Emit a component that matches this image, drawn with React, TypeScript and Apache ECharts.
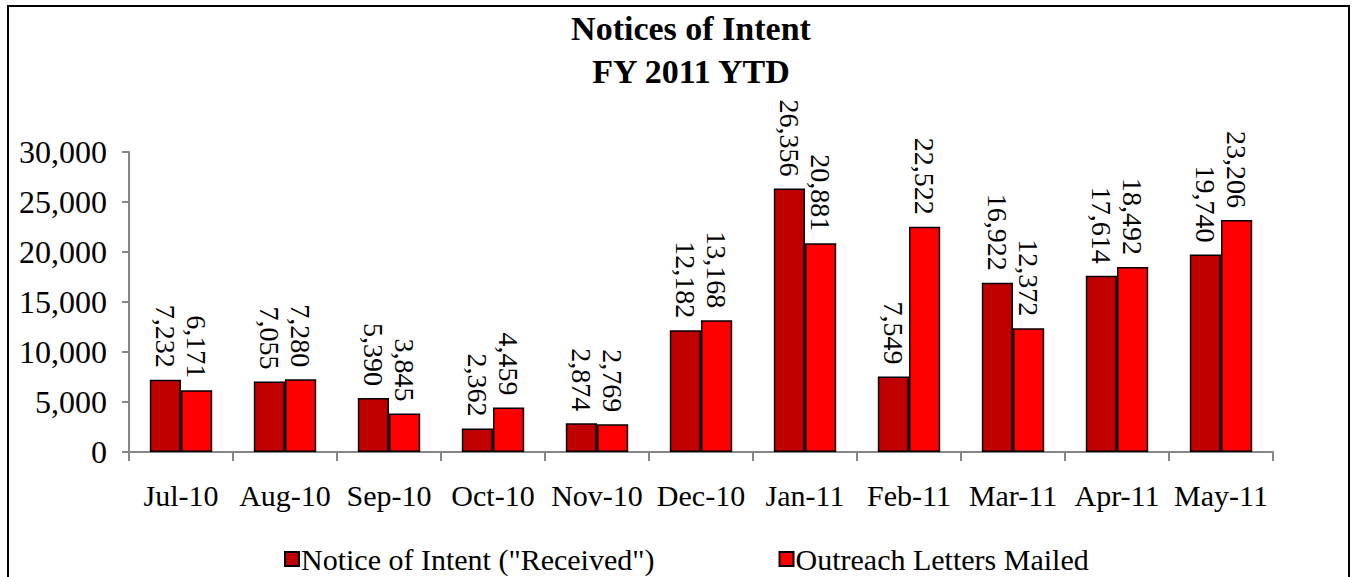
import React, { useEffect, useRef } from "react";
import * as echarts from "echarts";

const categories = ["Jul-10", "Aug-10", "Sep-10", "Oct-10", "Nov-10", "Dec-10", "Jan-11", "Feb-11", "Mar-11", "Apr-11", "May-11"];
const received = [7232, 7055, 5390, 2362, 2874, 12182, 26356, 7549, 16922, 17614, 19740];
const mailed = [6171, 7280, 3845, 4459, 2769, 13168, 20881, 22522, 12372, 18492, 23206];
const seriesNames = ['Notice of Intent ("Received")', "Outreach Letters Mailed"];
const titleText = "Notices of Intent\nFY 2011 YTD";

const FONT = "'Liberation Serif', 'Times New Roman', serif";

export default function App() {
  const ref = useRef<HTMLDivElement>(null);
  useEffect(() => {
    if (!ref.current) return;
    const chart = echarts.init(ref.current, null, { renderer: "svg" });
    const fmt = (v: number) => v.toLocaleString("en-US");
    const label = {
      show: true,
      position: "top",
      rotate: -90,
      align: "right",
      verticalAlign: "middle",
      distance: 12,
      fontFamily: FONT,
      fontSize: 28,
      color: "#000",
      formatter: (p: any) => fmt(p.value),
    };
    chart.setOption({
      animation: false,
      backgroundColor: "#fff",
      textStyle: { fontFamily: FONT },
      title: {
        text: titleText,
        left: 686,
        textAlign: "center",
        top: 2,
        textStyle: { fontFamily: FONT, fontWeight: "bold", fontSize: 34, lineHeight: 43, color: "#000" },
      },
      graphic: [
        {
          type: "rect",
          shape: { x: 8, y: 6, width: 1341, height: 620 },
          style: { fill: "none", stroke: "#000", lineWidth: 2 },
          silent: true,
        },
      ],
      legend: {
        top: 539,
        left: 279,
        itemGap: 124,
        itemWidth: 14,
        itemHeight: 14,
        icon: "rect",
        textStyle: { fontFamily: FONT, fontSize: 30, color: "#000", padding: [0, 0, 0, -3] },
        data: seriesNames,
      },
      grid: { left: 129, right: 80, top: 152, bottom: 125, containLabel: false },
      xAxis: {
        type: "category",
        data: categories,
        axisLine: { lineStyle: { color: "#868686", width: 2 } },
        axisTick: { show: true, length: 9, alignWithLabel: false, lineStyle: { color: "#868686", width: 2 } },
        axisLabel: { fontFamily: FONT, fontSize: 30, color: "#000", margin: 28, interval: 0 },
      },
      yAxis: {
        type: "value",
        min: 0,
        max: 30000,
        interval: 5000,
        splitLine: { show: false },
        axisLine: { show: true, lineStyle: { color: "#868686", width: 2 } },
        axisTick: { show: true, length: 7, lineStyle: { color: "#868686", width: 2 } },
        axisLabel: { fontFamily: FONT, fontSize: 32, color: "#000", margin: 22, formatter: (v: number) => fmt(v) },
      },
      series: [
        {
          name: seriesNames[0],
          type: "bar",
          data: received,
          barGap: "0%",
          barCategoryGap: "40%",
          itemStyle: { color: "#C00000", borderColor: "#000", borderWidth: 1.5 },
          label,
        },
        {
          name: seriesNames[1],
          type: "bar",
          data: mailed,
          barGap: "0%",
          barCategoryGap: "40%",
          itemStyle: { color: "#FF0000", borderColor: "#000", borderWidth: 1.5 },
          label,
        },
      ],
    });
    return () => chart.dispose();
  }, []);
  return <div ref={ref} style={{ position: "fixed", left: 0, top: 0, width: 1353, height: 577 }} />;
}
